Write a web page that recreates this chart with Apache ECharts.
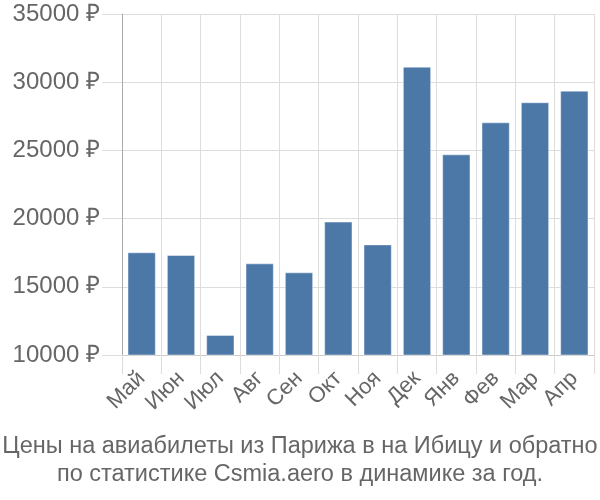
<!DOCTYPE html>
<html><head><meta charset="utf-8">
<script src="https://cdn.jsdelivr.net/npm/echarts@6/dist/echarts.min.js"></script>
<style>html,body{margin:0;padding:0;background:#fff}#c{width:600px;height:500px}</style>
</head><body><div id="c"></div>
<script>
const categories = ['Май','Июн','Июл','Авг','Сен','Окт','Ноя','Дек','Янв','Фев','Мар','Апр'];
const prices = [17530, 17330, 11470, 16720, 16060, 19780, 18110, 31140, 24710, 27060, 28530, 29380];
const titleLines = ['Цены на авиабилеты из Парижа в на Ибицу и обратно','по статистике Csmia.aero в динамике за год.'];
const chart = echarts.init(document.getElementById('c'), null, {renderer:'canvas'});
chart.setOption({
  animation:false,
  title:{text:titleLines.join('\n'), left:'center', bottom:6,
    textStyle:{fontFamily:'Liberation Sans, Arial, sans-serif', fontSize:23.5, fontWeight:'normal', color:'#666', lineHeight:28}},
  grid:{left:122, right:6, top:14, bottom:145},
  xAxis:{type:'category', data:categories,
    axisLine:{lineStyle:{color:'#ccc', width:1}},
    axisTick:{show:true, length:19, lineStyle:{color:'#ddd'}},
    splitLine:{show:true, lineStyle:{color:'#ddd', width:1}},
    axisLabel:{rotate:45, fontSize:22, color:'#666', fontFamily:'Liberation Sans, Arial, sans-serif', margin:20, interval:0}},
  yAxis:{type:'value', min:10000, max:35000, interval:5000,
    axisLine:{show:true, lineStyle:{color:'#aaa', width:1}},
    axisTick:{show:true, length:20, lineStyle:{color:'#ddd'}},
    splitLine:{lineStyle:{color:'#ddd', width:1}},
    axisLabel:{formatter:v=>v+' ₽', fontSize:24, color:'#666', fontFamily:'Liberation Sans, Arial, sans-serif', margin:22}},
  series:[{type:'bar', data:prices, barCategoryGap:'28%',
    itemStyle:{color:'#4c78a8', borderColor:'rgba(255,255,255,0.45)', borderWidth:1}}]
});
</script></body></html>
